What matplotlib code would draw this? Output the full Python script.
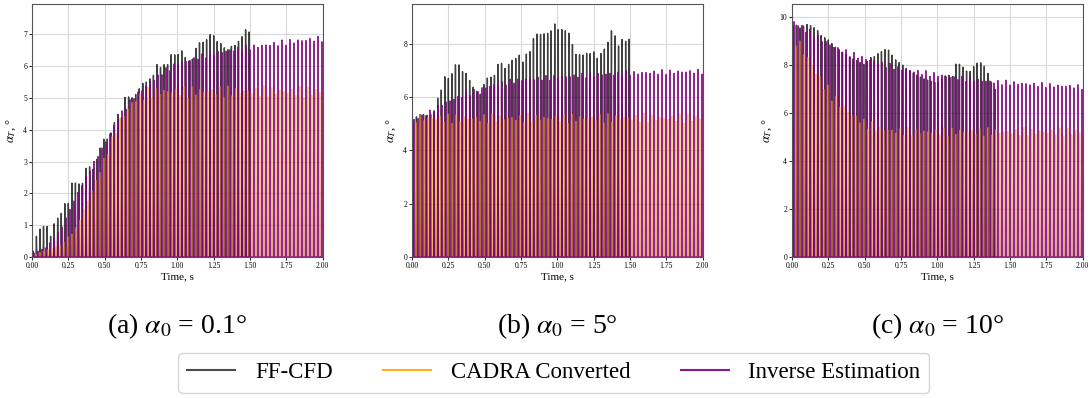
import numpy as np
import matplotlib.pyplot as plt
from matplotlib.lines import Line2D

plt.rcParams['font.family'] = ['Liberation Serif', 'DejaVu Serif']
plt.rcParams['mathtext.fontset'] = 'stix'

# oscillation rates (spikes per second)
f_cfd = 41.0
f_model = 36.35

# ---- (a) alpha0 = 0.1 deg ----
a_cfd_t = [0.0, 0.02, 0.04, 0.06, 0.09, 0.11, 0.13, 0.16, 0.18, 0.20, 0.22, 0.25, 0.27, 0.29,
           0.32, 0.34, 0.36, 0.38, 0.41, 0.43, 0.45, 0.48, 0.50, 0.53, 0.55, 0.60, 0.62, 0.64,
           0.67, 0.69, 0.72, 0.76, 0.79, 0.84, 0.86, 0.88, 0.90, 0.93, 0.95, 0.97, 1.00, 1.03,
           1.07, 1.10, 1.14, 1.17, 1.19, 1.22, 1.24, 1.27, 1.29, 1.34, 1.38, 1.41, 1.43, 1.46, 1.48, 1.50]
a_cfd_pk = [0.1, 0.42, 0.9, 0.9, 1.03, 0.95, 0.63, 1.2, 1.24, 1.36, 1.68, 1.68, 2.33, 2.33,
            2.36, 2.1, 2.75, 2.89, 2.89, 2.78, 3.27, 3.67, 3.9, 3.78, 4.15, 4.67, 4.4, 5.09,
            5.09, 5.04, 5.16, 5.46, 5.53, 5.8, 6.14, 6.03, 6.19, 6.14, 6.53, 6.56, 6.56, 6.68,
            6.3, 6.3, 6.82, 6.82, 6.8, 7.0, 7.03, 6.79, 6.79, 6.56, 6.77, 6.79, 7.06, 7.16, 7.58, 7.2]
a_cadra_t = [0.0, 0.2, 0.3, 0.4, 0.5, 0.6, 0.7, 0.8, 0.9, 2.0]
a_cadra_pk = [0.05, 0.4, 0.9, 2.0, 3.2, 4.4, 5.1, 5.35, 5.4, 5.4]
a_inv_t = [0.0, 0.1, 0.2, 0.3, 0.4, 0.5, 0.6, 0.7, 0.8, 0.9, 1.0, 1.2, 1.4, 1.6, 1.8, 2.0]
a_inv_pk = [0.1, 0.3, 0.9, 1.9, 2.8, 3.6, 4.5, 5.1, 5.5, 5.9, 6.15, 6.45, 6.62, 6.75, 6.88, 6.97]

# ---- (b) alpha0 = 5 deg ----
b_cfd_t = [0.0, 0.02, 0.06, 0.12, 0.16, 0.18, 0.21, 0.23, 0.25, 0.28, 0.31, 0.33, 0.36, 0.38,
           0.40, 0.43, 0.47, 0.50, 0.52, 0.55, 0.57, 0.60, 0.65, 0.67, 0.69, 0.72, 0.74, 0.76,
           0.79, 0.81, 0.83, 0.86, 0.88, 0.90, 0.93, 0.96, 0.98, 1.01, 1.03, 1.05, 1.08, 1.10,
           1.13, 1.15, 1.18, 1.20, 1.22, 1.25, 1.27, 1.30, 1.32, 1.35, 1.37, 1.40, 1.42, 1.44,
           1.47, 1.49, 1.50]
b_cfd_pk = [5.2, 5.4, 5.5, 5.4, 5.6, 6.1, 6.4, 6.9, 6.7, 6.95, 7.45, 7.2, 6.95, 7.05,
            6.7, 6.45, 6.3, 6.8, 6.95, 6.95, 7.0, 7.55, 7.1, 7.4, 7.45, 7.5, 7.6, 7.3,
            7.7, 7.75, 8.25, 8.5, 8.5, 8.55, 8.6, 8.75, 9.05, 8.8, 8.8, 8.75, 8.6, 8.2,
            7.7, 7.7, 7.65, 7.7, 7.65, 7.7, 7.45, 7.7, 7.85, 8.2, 8.65, 8.45, 8.1, 8.4,
            8.35, 8.5, 8.4]
b_cadra_t = [0.0, 2.0]
b_cadra_pk = [5.4, 5.42]
b_inv_t = [0.0, 0.1, 0.15, 0.2, 0.3, 0.4, 0.5, 0.6, 0.75, 1.0, 1.25, 1.5, 1.75, 2.0]
b_inv_pk = [5.2, 5.45, 5.6, 5.8, 6.05, 6.25, 6.45, 6.6, 6.75, 6.85, 6.95, 7.0, 7.05, 7.07]

# ---- (c) alpha0 = 10 deg ----
c_cfd_t = [0.0, 0.02, 0.05, 0.1, 0.12, 0.14, 0.17, 0.2, 0.3, 0.4, 0.5, 0.55, 0.58, 0.6,
           0.63, 0.65, 0.68, 0.7, 0.73, 0.8, 0.9, 1.0, 1.07, 1.1, 1.13, 1.16, 1.19, 1.21,
           1.23, 1.255, 1.28, 1.3, 1.33, 1.35, 1.38, 1.41]
c_cfd_pk = [9.9, 10.05, 9.8, 9.9, 9.85, 9.75, 9.6, 9.3, 8.8, 8.5, 8.3, 8.6, 8.55, 8.75,
            8.7, 8.85, 8.6, 8.35, 8.15, 7.85, 7.6, 7.5, 7.83, 7.6, 8.22, 8.12, 7.9, 7.73,
            7.77, 7.98, 8.15, 8.15, 8.0, 7.73, 7.3, 7.0]
c_cadra_t = [0.0, 0.1, 0.2, 0.3, 0.4, 0.5, 0.6, 0.7, 0.8, 2.0]
c_cadra_pk = [9.7, 8.7, 7.6, 6.8, 6.2, 5.8, 5.55, 5.45, 5.42, 5.42]
c_inv_t = [0.0, 0.1, 0.2, 0.3, 0.4, 0.5, 0.6, 0.75, 0.9, 1.0, 1.1, 1.25, 1.4, 1.6, 1.8, 2.0]
c_inv_pk = [10.0, 9.6, 9.2, 8.85, 8.6, 8.4, 8.2, 7.95, 7.8, 7.7, 7.6, 7.5, 7.4, 7.33, 7.25, 7.2]

captions = [r'(a) $\alpha_0$ = 0.1°', r'(b) $\alpha_0$ = 5°', r'(c) $\alpha_0$ = 10°']
ylims = [7.95, 9.5, 10.55]
yticks = [range(0, 8), range(0, 10, 2), range(0, 11, 2)]

panels = [
    (a_cfd_t, a_cfd_pk, a_cadra_t, a_cadra_pk, a_inv_t, a_inv_pk),
    (b_cfd_t, b_cfd_pk, b_cadra_t, b_cadra_pk, b_inv_t, b_inv_pk),
    (c_cfd_t, c_cfd_pk, c_cadra_t, c_cadra_pk, c_inv_t, c_inv_pk),
]


def spikes(tk, pk, f, phase=0.0, width=0.12, dt=0.0002):
    # narrow pulses from zero up to the peak envelope, once per period
    t = np.arange(0.0, tk[-1] + dt / 2, dt)
    env = np.interp(t, tk, pk)
    frac = (f * t + phase) % 1.0
    shape = np.clip(1.0 - np.abs(frac - 0.5) / width, 0.0, 1.0)
    return t, env * shape


fig = plt.figure(figsize=(10.88, 3.98), dpi=100)
lefts = [0.0294, 0.3787, 0.7279]

for i, (ct, cp, ot, op, it, ip) in enumerate(panels):
    ax = fig.add_axes([lefts[i], 0.3543, 0.2672, 0.6357])
    t, y = spikes(ct, cp, f_cfd, 0.25)
    ax.plot(t, y, color='black', lw=1.0, alpha=0.75)
    t, y = spikes(ot, op, f_model, 0.5, width=0.05)
    ax.plot(t, y, color='orange', lw=0.5, alpha=0.8)
    t, y = spikes(it, ip, f_model, 0.0)
    ax.plot(t, y, color='purple', lw=1.0, alpha=0.85)

    ax.set_xlim(0, 2)
    ax.set_ylim(0, ylims[i])
    ax.set_xticks(np.arange(0, 2.01, 0.25))
    ax.set_xticklabels([f'{v:.2f}' for v in np.arange(0, 2.01, 0.25)])
    ax.set_yticks(list(yticks[i]))
    ax.tick_params(labelsize=5.5, length=2, width=0.6, pad=1.5)
    ax.grid(True, color='#d8d8d8', lw=0.8)
    ax.set_axisbelow(True)
    for s in ax.spines.values():
        s.set_color('#555555')
        s.set_linewidth(0.8)
    ax.set_xlabel('Time, s', fontsize=8, labelpad=2)
    ax.set_ylabel(r'$\alpha_T$, °', fontsize=9, labelpad=4)
    fig.text(lefts[i] + 0.1336, 0.18, captions[i], ha='center', va='center', fontsize=20)

handles = [Line2D([], [], color='black', lw=1.5, alpha=0.7),
           Line2D([], [], color='orange', lw=1.5, alpha=0.9),
           Line2D([], [], color='purple', lw=1.5, alpha=0.9)]
fig.legend(handles, ['FF-CFD', 'CADRA Converted', 'Inverse Estimation'],
           loc='lower center', bbox_to_anchor=(0.509, -0.015), ncol=3, fontsize=16.5,
           handlelength=2.1, handletextpad=0.85, columnspacing=2.2,
           frameon=True, fancybox=True, edgecolor='#cccccc')

fig.savefig('out.png', dpi=100)
